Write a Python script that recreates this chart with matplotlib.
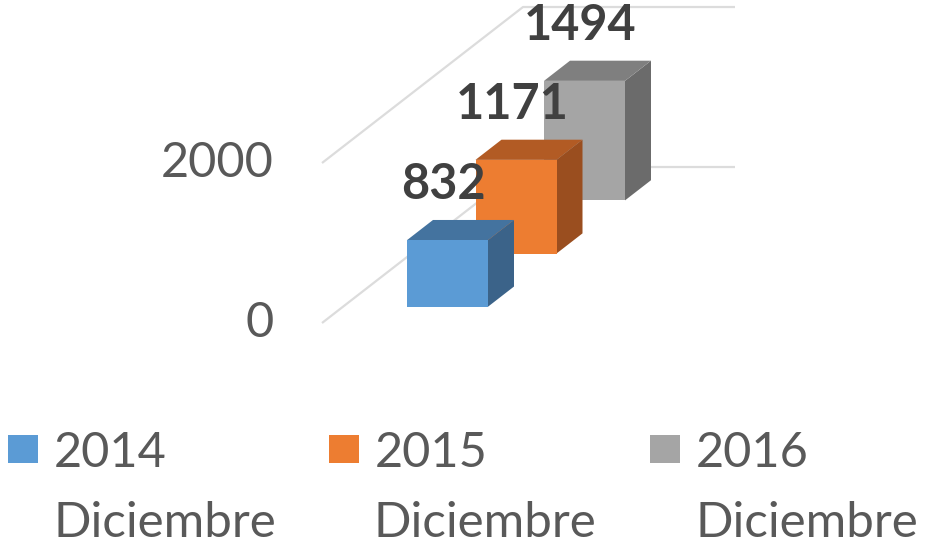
import matplotlib.pyplot as plt
from matplotlib.patches import Polygon, Rectangle

plt.rcParams["font.family"] = ["Lato", "DejaVu Sans"]

# data
years = ["2014", "2015", "2016"]
month = "Diciembre"
values = [832, 1171, 1494]
yticks = [0, 2000]

# colours (front / top / side)
front_colors = ["#5B9BD5", "#ED7D31", "#A5A5A5"]
top_colors = ["#44739F", "#B25B24", "#7F7F7F"]
side_colors = ["#3B6389", "#9A4E1F", "#6B6B6B"]
grid_color = "#DCDCDC"
tick_color = "#595959"
label_color = "#404040"

# projection setup (x in px units, y in value units)
W, H = 936, 544
PX_PER_VAL = 0.08           # vertical pixels per value unit
ZERO_PX = 323               # pixel row of value 0 at the front plane
SLOPE = 0.776 / PX_PER_VAL  # value units gained per unit of depth
WALL_X = 322
WALL_DEPTH = 201
BACK_END_X = 735
BAR_X0 = 386
BAR_W = 81
BAR_D = 26
Z0, Z_STEP = 21, 68.5

fig = plt.figure(figsize=(W / 100, H / 100), dpi=100)
ax = fig.add_axes([0, 0, 1, 1])
ax.set_xlim(0, W)
ax.set_ylim(-(H - ZERO_PX) / PX_PER_VAL, ZERO_PX / PX_PER_VAL)
ax.axis("off")


def proj(x, z, v):
    return (x + z, v + z * SLOPE)


# gridlines: left wall diagonal + back wall horizontal
for t in yticks:
    p0 = proj(WALL_X, 0, t)
    p1 = proj(WALL_X, WALL_DEPTH, t)
    ax.plot([p0[0], p1[0], BACK_END_X], [p0[1], p1[1], p1[1]],
            color=grid_color, lw=1.6, zorder=1, solid_capstyle="butt")
    ax.text(WALL_X - 48, t, str(t), ha="right", va="center",
            fontsize=35, color=tick_color, zorder=2)

# bars, back to front
for i in reversed(range(len(values))):
    z = Z0 + i * Z_STEP
    v = values[i]
    x0, x1 = BAR_X0, BAR_X0 + BAR_W
    front = [proj(x0, z, 0), proj(x1, z, 0), proj(x1, z, v), proj(x0, z, v)]
    top = [proj(x0, z, v), proj(x1, z, v), proj(x1, z + BAR_D, v), proj(x0, z + BAR_D, v)]
    side = [proj(x1, z, 0), proj(x1, z + BAR_D, 0), proj(x1, z + BAR_D, v), proj(x1, z, v)]
    zo = 10 + (len(values) - i) * 3
    ax.add_patch(Polygon(side, closed=True, facecolor=side_colors[i], edgecolor="none", zorder=zo))
    ax.add_patch(Polygon(top, closed=True, facecolor=top_colors[i], edgecolor="none", zorder=zo + 1))
    ax.add_patch(Polygon(front, closed=True, facecolor=front_colors[i], edgecolor="none", zorder=zo + 2))

# value labels
for i, v in enumerate(values):
    z = Z0 + i * Z_STEP
    cx = BAR_X0 + BAR_W / 2 - 4
    x, y = proj(cx, z + BAR_D, v)
    ax.text(cx + z, y + 21 / PX_PER_VAL, str(v), ha="center", va="baseline",
            fontsize=35, fontweight="bold", color=label_color, zorder=30)

# legend
for i, yr in enumerate(years):
    lx = 8 + i * 321
    fig.patches.append(Rectangle((lx / W, 1 - 463 / H), 30 / W, 28 / H,
                                 transform=fig.transFigure, facecolor=front_colors[i],
                                 edgecolor="none"))
    fig.text((lx + 46) / W, 1 - 467 / H, yr, ha="left", va="baseline",
             fontsize=35, color=tick_color)
    fig.text((lx + 45) / W, 1 - 537 / H, month, ha="left", va="baseline",
             fontsize=35.5, color=tick_color)

fig.savefig("out.png", dpi=100, facecolor="white")
